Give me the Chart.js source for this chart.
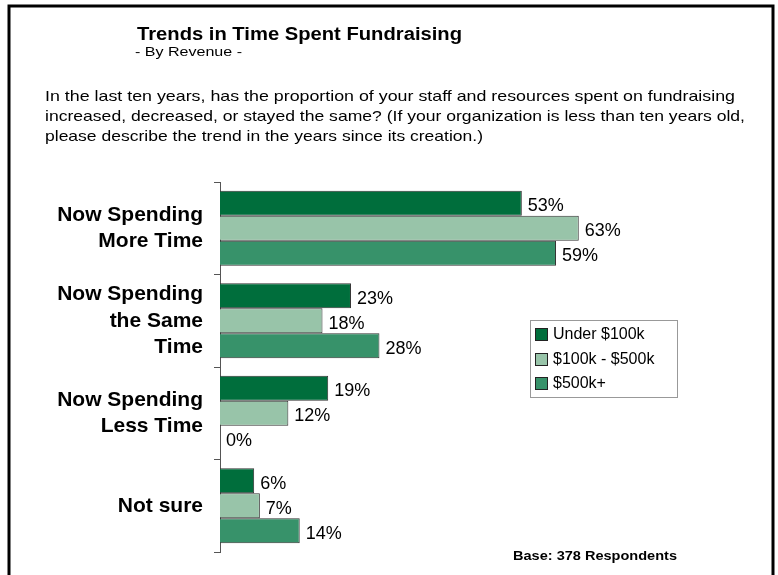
<!DOCTYPE html>
<html>
<head>
<meta charset="utf-8">
<script src="https://cdn.jsdelivr.net/npm/chart.js@4"></script>
<style>
  html, body { margin: 0; padding: 0; background: #fff; }
  #wrap { width: 778px; height: 575px; position: relative; }
</style>
</head>
<body>
<div id="wrap"><canvas id="chart" width="778" height="575"></canvas></div>
<script>
const categories = [
  ["Now Spending", "More Time"],
  ["Now Spending", "the Same", "Time"],
  ["Now Spending", "Less Time"],
  "Not sure"
];
const seriesNames = ["Under $100k", "$100k - $500k", "$500k+"];
const under100k = [53, 23, 19, 6];
const mid100to500k = [63, 18, 12, 7];
const over500k = [59, 28, 0, 14];
const colors = ["#006e3c", "#98c4a9", "#37926a"];

const FONT = "'Liberation Sans', Arial, sans-serif";

// text squeezed to a given width, like the scanned original
function fitText(ctx, text, x, y, width) {
  const w = ctx.measureText(text).width;
  ctx.save();
  ctx.translate(x, y);
  if (width) ctx.scale(width / w, 1);
  ctx.fillText(text, 0, 0);
  ctx.restore();
}

const decor = {
  id: "decor",
  beforeDraw(chart) {
    const ctx = chart.ctx;
    ctx.save();
    ctx.fillStyle = "#fff";
    ctx.fillRect(0, 0, chart.width, chart.height);
    // frame
    ctx.strokeStyle = "#000";
    ctx.lineWidth = 3;
    ctx.beginPath();
    ctx.moveTo(9, 580);
    ctx.lineTo(9, 6);
    ctx.lineTo(773, 6);
    ctx.lineTo(773, 580);
    ctx.stroke();
    ctx.restore();
  },
  afterDraw(chart) {
    const ctx = chart.ctx;
    ctx.save();
    ctx.fillStyle = "#000";
    ctx.textBaseline = "alphabetic";
    ctx.textAlign = "left";
    ctx.font = "bold 18px " + FONT;
    fitText(ctx, "Trends in Time Spent Fundraising", 137, 40, 325);
    ctx.font = "13px " + FONT;
    fitText(ctx, "- By Revenue -", 135, 56, 107);
    ctx.font = "15px " + FONT;
    fitText(ctx, "In the last ten years, has the proportion of your staff and resources spent on fundraising", 45, 101, 690);
    fitText(ctx, "increased, decreased, or stayed the same? (If your organization is less than ten years old,", 45, 121, 700);
    fitText(ctx, "please describe the trend in the years since its creation.)", 45, 141, 438);

    // value labels
    ctx.font = "18px " + FONT;
    ctx.textBaseline = "middle";
    chart.data.datasets.forEach((ds, di) => {
      const meta = chart.getDatasetMeta(di);
      meta.data.forEach((bar, i) => {
        ctx.fillText(ds.data[i] + "%", bar.x + 6, bar.y + 3);
      });
    });

    // legend box
    ctx.strokeStyle = "#999";
    ctx.lineWidth = 1;
    ctx.strokeRect(530.5, 320.5, 147, 77);
    ctx.font = "16px " + FONT;
    const rowY = [334, 359, 383];
    seriesNames.forEach((name, i) => {
      ctx.fillStyle = colors[i];
      ctx.fillRect(535, rowY[i] - 6, 13, 13);
      ctx.strokeStyle = "#222";
      ctx.strokeRect(535.5, rowY[i] - 5.5, 12, 12);
      ctx.fillStyle = "#000";
      ctx.fillText(name, 553, rowY[i] + 1);
    });

    ctx.font = "bold 13px " + FONT;
    ctx.textBaseline = "alphabetic";
    fitText(ctx, "Base: 378 Respondents", 513, 560, 164);
    ctx.restore();
  }
};

const ctx = document.getElementById("chart").getContext("2d");
new Chart(ctx, {
  type: "bar",
  data: {
    labels: categories,
    datasets: [under100k, mid100to500k, over500k].map((d, i) => ({
      label: seriesNames[i],
      data: d,
      backgroundColor: colors[i],
      borderColor: "#333",
      borderWidth: 1,
      categoryPercentage: 0.81,
      barPercentage: 1.0
    }))
  },
  options: {
    indexAxis: "y",
    responsive: false,
    animation: false,
    layout: { padding: { top: 182, bottom: 23, left: 0, right: 17 } },
    plugins: { legend: { display: false }, tooltip: { enabled: false } },
    scales: {
      x: { display: false, min: 0, max: 95 },
      y: {
        afterFit(scale) {
          scale.width = 220;
          scale.paddingTop = 0;
          scale.paddingBottom = 0;
        },
        border: { display: true, color: "#555", width: 1 },
        grid: { drawOnChartArea: false, tickLength: 6, color: "#555", offset: true },
        ticks: {
          color: "#000",
          padding: 11,
          font: { family: FONT, size: 21, weight: "bold", lineHeight: 1.25 }
        }
      }
    }
  },
  plugins: [decor]
});
</script>
</body>
</html>
